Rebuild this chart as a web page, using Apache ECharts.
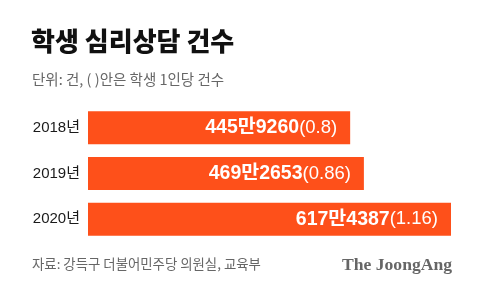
<!DOCTYPE html>
<html><head><meta charset="utf-8">
<script src="https://cdn.jsdelivr.net/npm/echarts@6/dist/echarts.min.js"></script>
<style>html,body{margin:0;padding:0;background:#fff}#c{width:480px;height:304px}</style>
</head><body><div id="c"></div>
<script>
const years = ['2018년', '2019년', '2020년'];
const counts = [4459260, 4692653, 6174387];
const perStudent = ['0.8', '0.86', '1.16'];

const KR = '"Noto Sans CJK KR", sans-serif';
const LAT = '"Liberation Sans", "Noto Sans CJK KR", sans-serif';

function fmt(v) { return Math.floor(v / 10000) + '만' + (v % 10000); }

const chart = echarts.init(document.getElementById('c'));
chart.setOption({
  backgroundColor: '#fff',
  animation: false,
  title: [
    { text: '학생 심리상담 건수', left: 31, top: 28, padding: 0,
      textStyle: { fontFamily: KR, fontWeight: 900, fontSize: 26, color: '#111' } },
    { text: '단위: 건, ( )안은 학생 1인당 건수', left: 32, top: 72, padding: 0,
      textStyle: { fontFamily: KR, fontWeight: 'normal', fontSize: 14.5, color: '#666' } },
    { text: '자료: 강득구 더불어민주당 의원실, 교육부', left: 32, top: 257, padding: 0,
      textStyle: { fontFamily: KR, fontWeight: 'normal', fontSize: 13.4, color: '#666' } },
    { text: 'The JoongAng', right: 28, top: 256, padding: 0,
      textStyle: { fontFamily: '"Liberation Serif", serif', fontWeight: 'bold', fontSize: 17.6, color: '#666' } }
  ],
  grid: { left: 88, right: 29, top: 105, height: 137 },
  xAxis: { type: 'value', min: 0, max: 'dataMax', show: false },
  yAxis: {
    type: 'category', data: years, inverse: true,
    axisLine: { show: false }, axisTick: { show: false },
    axisLabel: { margin: 8, fontSize: 15, color: '#1a1a1a', fontFamily: LAT }
  },
  series: [{
    type: 'bar',
    data: counts,
    barWidth: 33,
    itemStyle: { color: '#fe501a' },
    label: {
      show: true, position: 'insideRight', distance: 13,
      formatter: p => '{a|' + fmt(p.value) + '}{b|(' + perStudent[p.dataIndex] + ')}',
      rich: {
        a: { fontFamily: LAT, fontWeight: 'bold', fontSize: 19.5, color: '#fff' },
        b: { fontFamily: LAT, fontWeight: 'normal', fontSize: 18.5, color: '#fff' }
      }
    }
  }]
});
</script>
</body></html>
